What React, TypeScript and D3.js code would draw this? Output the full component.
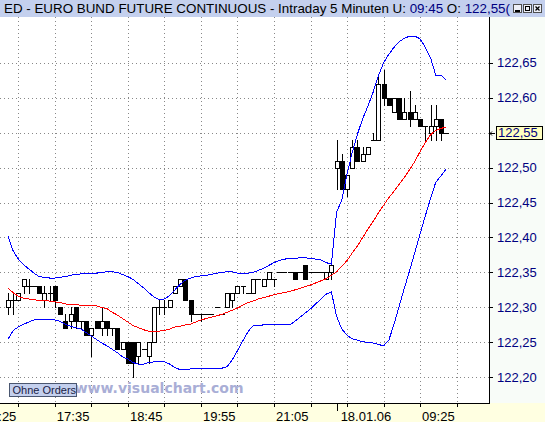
import React from "react";
import * as d3 from "d3";

// ---- data (EURO BUND FUTURE, 5-minute bars) ----
const opens = [
  122.30, 122.31, 122.31, 122.33, 122.33, 122.33, 122.33, 122.31, 122.32, 122.33,
  122.30, 122.28, 122.28, 122.30, 122.28, 122.28, 122.26, 122.28, 122.27, 122.28,
  122.27, 122.27, 122.24, 122.25, 122.25, 122.23, 122.24, 122.23, 122.25, 122.30,
  122.30, 122.30, 122.32, 122.33, 122.34, 122.31, 122.29, 122.29, 122.29, 122.29,
  122.30, 122.29, 122.30, 122.31, 122.32, 122.33, 122.32, 122.32, 122.34, 122.33,
  122.34, 122.34, 122.35, 122.35, 122.35, 122.35, 122.35, 122.36, 122.35, 122.35,
  122.35, 122.34, 122.35, 122.50, 122.51, 122.47, 122.50, 122.53, 122.51, 122.52,
  122.54, 122.54, 122.62, 122.60, 122.58, 122.60, 122.57, 122.58, 122.57, 122.57,
  122.56, 122.55, 122.56, 122.57, 122.55,
];
const highs = [
  122.32, 122.32, 122.32, 122.34, 122.34, 122.33, 122.33, 122.33, 122.33, 122.33,
  122.30, 122.29, 122.30, 122.30, 122.28, 122.28, 122.27, 122.28, 122.30, 122.28,
  122.27, 122.27, 122.25, 122.25, 122.25, 122.25, 122.24, 122.25, 122.30, 122.31,
  122.31, 122.31, 122.33, 122.34, 122.34, 122.31, 122.29, 122.29, 122.29, 122.29,
  122.30, 122.29, 122.32, 122.32, 122.33, 122.33, 122.32, 122.34, 122.34, 122.34,
  122.35, 122.34, 122.35, 122.35, 122.35, 122.35, 122.35, 122.36, 122.35, 122.35,
  122.35, 122.35, 122.36, 122.54, 122.52, 122.49, 122.54, 122.54, 122.53, 122.53,
  122.55, 122.63, 122.64, 122.60, 122.60, 122.60, 122.60, 122.61, 122.59, 122.57,
  122.56, 122.59, 122.59, 122.57, 122.55,
];
const lows = [
  122.29, 122.29, 122.31, 122.32, 122.32, 122.33, 122.32, 122.30, 122.31, 122.30,
  122.29, 122.27, 122.27, 122.27, 122.27, 122.26, 122.23, 122.27, 122.26, 122.26,
  122.26, 122.24, 122.24, 122.22, 122.20, 122.22, 122.24, 122.22, 122.25, 122.29,
  122.29, 122.30, 122.32, 122.33, 122.31, 122.28, 122.29, 122.28, 122.29, 122.29,
  122.30, 122.29, 122.30, 122.30, 122.32, 122.32, 122.32, 122.32, 122.34, 122.33,
  122.34, 122.33, 122.35, 122.35, 122.35, 122.34, 122.35, 122.34, 122.35, 122.35,
  122.35, 122.34, 122.34, 122.47, 122.47, 122.46, 122.50, 122.51, 122.51, 122.52,
  122.54, 122.54, 122.59, 122.59, 122.58, 122.57, 122.57, 122.56, 122.57, 122.56,
  122.54, 122.54, 122.54, 122.54, 122.55,
];
const closes = [
  122.31, 122.31, 122.32, 122.34, 122.33, 122.33, 122.32, 122.32, 122.32, 122.31,
  122.29, 122.27, 122.29, 122.28, 122.28, 122.26, 122.27, 122.27, 122.28, 122.27,
  122.27, 122.24, 122.25, 122.22, 122.22, 122.25, 122.24, 122.25, 122.30, 122.30,
  122.30, 122.31, 122.33, 122.34, 122.31, 122.29, 122.29, 122.29, 122.29, 122.29,
  122.30, 122.29, 122.32, 122.32, 122.33, 122.33, 122.32, 122.34, 122.34, 122.34,
  122.35, 122.34, 122.35, 122.35, 122.35, 122.34, 122.35, 122.34, 122.35, 122.35,
  122.35, 122.35, 122.36, 122.51, 122.47, 122.49, 122.53, 122.51, 122.52, 122.53,
  122.54, 122.62, 122.60, 122.59, 122.60, 122.57, 122.58, 122.57, 122.58, 122.56,
  122.56, 122.56, 122.57, 122.55, 122.55,
];
// 20-bar moving average (red) and Bollinger bands (blue)
const maLine = [
  122.328, 122.321, 122.316, 122.313, 122.312, 122.311, 122.310, 122.310, 122.309, 122.308,
  122.307, 122.305, 122.304, 122.304, 122.303, 122.303, 122.303, 122.302, 122.300, 122.298,
  122.293, 122.289, 122.284, 122.279, 122.274, 122.271, 122.268, 122.266, 122.265, 122.266,
  122.267, 122.269, 122.272, 122.273, 122.275, 122.276, 122.279, 122.282, 122.284, 122.286,
  122.288, 122.290, 122.293, 122.296, 122.299, 122.303, 122.307, 122.309, 122.312, 122.314,
  122.316, 122.318, 122.320, 122.321, 122.323, 122.325, 122.327, 122.330, 122.332, 122.335,
  122.338, 122.341, 122.346, 122.351, 122.359, 122.367, 122.378, 122.388, 122.400, 122.412,
  122.423, 122.435, 122.446, 122.457, 122.466, 122.476, 122.486, 122.497, 122.509, 122.523,
  122.536, 122.547, 122.553, 122.556, 122.558,
];
const upperBand = [
  122.402, 122.381, 122.369, 122.361, 122.355, 122.349, 122.344, 122.343, 122.342, 122.342,
  122.343, 122.344, 122.346, 122.347, 122.348, 122.348, 122.349, 122.349, 122.350, 122.351,
  122.351, 122.350, 122.347, 122.344, 122.340, 122.334, 122.328, 122.321, 122.315, 122.311,
  122.312, 122.317, 122.325, 122.333, 122.339, 122.342, 122.344, 122.345, 122.346, 122.347,
  122.349, 122.350, 122.351, 122.351, 122.349, 122.348, 122.349, 122.350, 122.353, 122.356,
  122.360, 122.364, 122.367, 122.369, 122.370, 122.370, 122.371, 122.371, 122.370, 122.369,
  122.368, 122.364, 122.362, 122.436, 122.454, 122.491, 122.522, 122.548, 122.570, 122.588,
  122.608, 122.631, 122.650, 122.662, 122.672, 122.680, 122.685, 122.688, 122.688, 122.684,
  122.672, 122.657, 122.632, 122.632, 122.625,
];
const lowerBand = [
  122.254, 122.267, 122.272, 122.276, 122.279, 122.282, 122.283, 122.283, 122.283, 122.282,
  122.280, 122.276, 122.273, 122.271, 122.269, 122.264, 122.259, 122.254, 122.249, 122.245,
  122.240, 122.235, 122.229, 122.226, 122.221, 122.219, 122.219, 122.221, 122.222, 122.222,
  122.222, 122.219, 122.214, 122.211, 122.211, 122.212, 122.212, 122.212, 122.213, 122.213,
  122.213, 122.213, 122.215, 122.225, 122.238, 122.252, 122.265, 122.274, 122.274, 122.275,
  122.275, 122.275, 122.275, 122.275, 122.275, 122.280, 122.286, 122.292, 122.298, 122.305,
  122.312, 122.319, 122.322, 122.287, 122.269, 122.260, 122.255, 122.253, 122.251, 122.250,
  122.249, 122.247, 122.245, 122.253, 122.276, 122.302, 122.328, 122.353, 122.379, 122.405,
  122.431, 122.456, 122.479, 122.488, 122.498,
];
const priceTicks = [122.2, 122.25, 122.3, 122.35, 122.4, 122.45, 122.5, 122.55, 122.6, 122.65];
const timeLabels = ["16:25", "17:35", "18:45", "19:55", "21:05", "09:25"];
const timeLabelBars = [-5, 9, 23, 37, 51, 79];
const dayLabel = "18.01.06";
const dayBreakBar = 63;
const lastPrice = 122.55;
const titleParts = [
  { text: "ED - EURO BUND FUTURE CONTINUOUS - Intraday 5 Minuten U: ", color: "#000000" },
  { text: "09:45", color: "#000080" },
  { text: " O: ", color: "#000000" },
  { text: "122,55(", color: "#000080" },
];

const W = 545;
const H = 422;
const PLOT_TOP = 17;
const PLOT_BOTTOM = 403;
const AXIS_X = 489;
const FONT = "'Liberation Sans', Arial, sans-serif";

export default function App() {
  const n = opens.length;
  const x = d3.scaleLinear().domain([0, n - 1]).range([7.9, 446.2]);
  const y = d3.scaleLinear().domain([122.2, 122.65]).range([377.3, 62.7]);
  const px = (i: number) => Math.round(x(i));
  const py = (v: number) => Math.round(y(v));
  const fmt = (v: number) => d3.format(".2f")(v).replace(".", ",");
  const gridBars = d3.range(13).map((k) => 2 + 7 * k);
  const line = d3
    .line<number>()
    .x((_, i) => x(i))
    .y((v) => y(v));

  return (
    <svg
      width={W}
      height={H}
      viewBox={`0 0 ${W} ${H}`}
      style={{ position: "fixed", left: 0, top: 0, display: "block" }}
      fontFamily={FONT}
    >
      <defs>
        <clipPath id="plotClip">
          <rect x={0} y={PLOT_TOP} width={AXIS_X} height={PLOT_BOTTOM - PLOT_TOP} />
        </clipPath>
      </defs>
      {/* backgrounds */}
      <rect x={0} y={0} width={W} height={H} fill="#ffffff" />
      <rect x={AXIS_X} y={PLOT_TOP} width={W - AXIS_X} height={PLOT_BOTTOM - PLOT_TOP} fill="#f8fcf8" />
      <rect x={0} y={PLOT_BOTTOM} width={W} height={H - PLOT_BOTTOM} fill="#ffffe1" />
      <rect x={0} y={0} width={W} height={PLOT_TOP} fill="#c4d0ee" />

      {/* title */}
      <text x={4} y={13} fontSize={13.4} textLength={506} lengthAdjust="spacingAndGlyphs">
        {titleParts.map((p, k) => (
          <tspan key={k} fill={p.color}>
            {p.text}
          </tspan>
        ))}
      </text>
      {/* window buttons */}
      {[0, 1, 2].map((k) => {
        const bx = 513 + k * 10;
        return (
          <g key={k} shapeRendering="crispEdges">
            <rect x={bx + 0.5} y={4.5} width={8} height={8} fill="#eef0f8" stroke="#505050" />
            {k === 0 && <line x1={bx + 2} x2={bx + 7} y1={10.5} y2={10.5} stroke="#000" strokeWidth={2} />}
            {k === 1 && <rect x={bx + 2.5} y={6.5} width={4} height={4} fill="none" stroke="#000" />}
            {k === 2 && (
              <g shapeRendering="auto">
                <line x1={bx + 2.5} x2={bx + 6.5} y1={6.5} y2={10.5} stroke="#000" strokeWidth={1.3} />
                <line x1={bx + 6.5} x2={bx + 2.5} y1={6.5} y2={10.5} stroke="#000" strokeWidth={1.3} />
              </g>
            )}
          </g>
        );
      })}

      {/* grid */}
      <g stroke="#888888" strokeDasharray="1,3" shapeRendering="crispEdges">
        {priceTicks.map((v) => (
          <line key={v} x1={0} x2={AXIS_X} y1={py(v) + 0.5} y2={py(v) + 0.5} />
        ))}
        {gridBars.map((b) => (
          <line key={b} x1={px(b) + 0.5} x2={px(b) + 0.5} y1={PLOT_TOP} y2={PLOT_BOTTOM} />
        ))}
      </g>

      {/* watermark and button */}
      <text x={74.7} y={392.5} fontFamily="'DejaVu Sans', Verdana, sans-serif" fontWeight="bold" fontSize={14} fill="#a9aed6">
        www.visualchart.com
      </text>
      <rect x={9.5} y={383.5} width={67} height={13} fill="#c4d0ee" stroke="#4a5670" shapeRendering="crispEdges" />
      <text x={12.5} y={394.3} fontSize={11} fill="#1a2246">
        Ohne Orders
      </text>

      {/* candles */}
      <g clipPath="url(#plotClip)" shapeRendering="crispEdges">
        {opens.map((o, i) => {
          const c = closes[i];
          const cx = px(i);
          const top = py(Math.max(o, c));
          const bot = py(Math.min(o, c));
          const up = c >= o;
          return (
            <g key={i}>
              <line x1={cx + 0.5} x2={cx + 0.5} y1={py(highs[i])} y2={py(lows[i]) + 1} stroke="#000" />
              {top === bot ? (
                <line x1={cx - 2} x2={cx + 3} y1={top + 0.5} y2={top + 0.5} stroke="#000" />
              ) : (
                <rect x={cx - 1.5} y={top + 0.5} width={4} height={bot - top} fill={up ? "#ffffff" : "#000000"} stroke="#000" />
              )}
            </g>
          );
        })}
      </g>

      {/* indicator lines */}
      <g clipPath="url(#plotClip)" fill="none" strokeWidth={1} shapeRendering="crispEdges">
        <path d={line(upperBand) || ""} stroke="#0000ff" />
        <path d={line(lowerBand) || ""} stroke="#0000ff" />
        <path d={line(maLine) || ""} stroke="#ff0000" />
      </g>

      {/* right axis */}
      <line x1={AXIS_X + 0.5} x2={AXIS_X + 0.5} y1={PLOT_TOP} y2={PLOT_BOTTOM} stroke="#000" shapeRendering="crispEdges" />
      <g shapeRendering="crispEdges">
        {priceTicks.map((v) => (
          <line key={v} x1={AXIS_X} x2={AXIS_X + 4} y1={py(v) + 0.5} y2={py(v) + 0.5} stroke="#000" />
        ))}
      </g>
      {priceTicks
        .filter((v) => Math.abs(v - lastPrice) > 1e-6)
        .map((v) => (
          <text key={v} x={497} y={y(v) + 4.7} fontSize={13} fill="#000080">
            {fmt(v)}
          </text>
        ))}
      {/* last price marker */}
      <rect x={496.5} y={py(lastPrice) - 6.5} width={46} height={13} fill="#ffffc0" stroke="#000" shapeRendering="crispEdges" />
      <text x={498} y={y(lastPrice) + 4.7} fontSize={13} fill="#000080">
        {fmt(lastPrice)}
      </text>
      <path
        d={`M${AXIS_X + 1},${py(lastPrice) + 0.5} L${AXIS_X + 6},${py(lastPrice) + 0.5} M${AXIS_X + 3},${py(lastPrice) - 1.5} L${AXIS_X + 1},${py(lastPrice) + 0.5} L${AXIS_X + 3},${py(lastPrice) + 2.5}`}
        stroke="#000"
        fill="none"
      />

      {/* bottom axis */}
      <line x1={0} x2={AXIS_X + 1} y1={PLOT_BOTTOM + 0.5} y2={PLOT_BOTTOM + 0.5} stroke="#000" shapeRendering="crispEdges" />
      <g shapeRendering="crispEdges" stroke="#000">
        {gridBars.map((b) => (
          <line key={b} x1={px(b) + 0.5} x2={px(b) + 0.5} y1={PLOT_BOTTOM} y2={PLOT_BOTTOM + 4} />
        ))}
        <line x1={px(dayBreakBar) + 0.5} x2={px(dayBreakBar) + 0.5} y1={PLOT_BOTTOM} y2={PLOT_BOTTOM + 8} />
      </g>
      {timeLabels.map((t, k) => (
        <text key={t} x={x(timeLabelBars[k]) + 2} y={420.5} fontSize={13} fill="#000">
          {t}
        </text>
      ))}
      <text x={x(dayBreakBar) + 4} y={420.5} fontSize={13} fill="#000">
        {dayLabel}
      </text>
    </svg>
  );
}
